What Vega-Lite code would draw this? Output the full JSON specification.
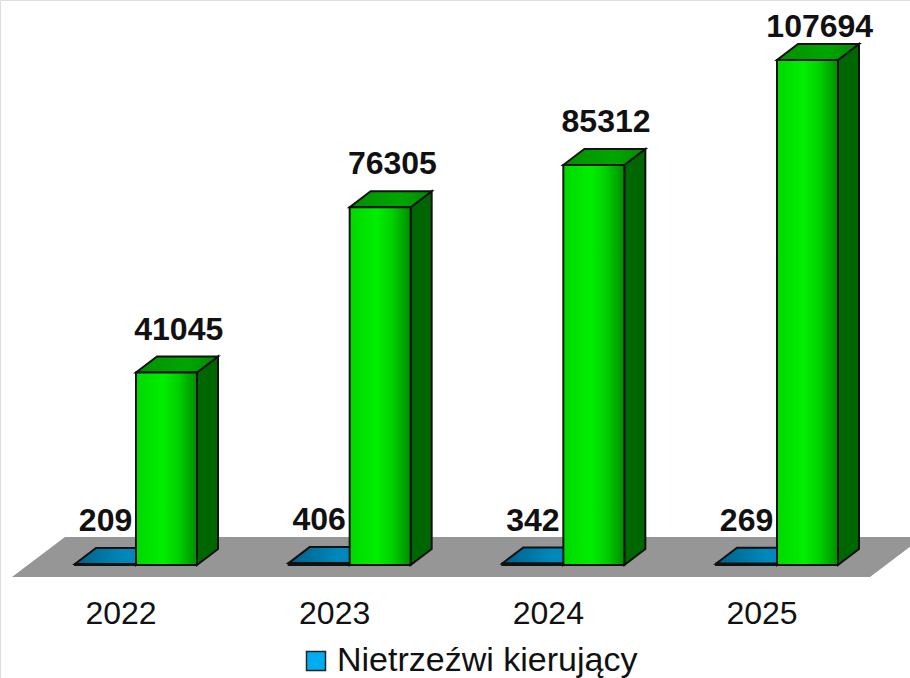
{
"$schema":"https://vega.github.io/schema/vega-lite/v6.json",
"width":910,"height":678,"padding":0,"autosize":{"type":"none"},
"background":"white",
"data":{"values":[
{"year":2022,"series":"Nietrzeźwi kierujący","value":209},
{"year":2023,"series":"Nietrzeźwi kierujący","value":406},
{"year":2024,"series":"Nietrzeźwi kierujący","value":342},
{"year":2025,"series":"Nietrzeźwi kierujący","value":269},
{"year":2022,"series":"Seria 2","value":41045},
{"year":2023,"series":"Seria 2","value":76305},
{"year":2024,"series":"Seria 2","value":85312},
{"year":2025,"series":"Seria 2","value":107694}
]},
"transform":[
{"calculate":"datum.series === 'Seria 2'","as":"green"},
{"calculate":"datum.year + (datum.green ? 0.0655 : -0.22)","as":"L"},
{"calculate":"datum.L + 0.2855","as":"R"},
{"calculate":"[datum.R, datum.R + 0.0983]","as":"sx"},
{"calculate":"[0, 3412]","as":"slo"},
{"calculate":"[datum.value, datum.value + 3412]","as":"shi"},
{"calculate":"[datum.L, datum.L + 0.0983, datum.R, datum.R + 0.0983]","as":"tx"},
{"calculate":"[datum.value, datum.value, datum.value, datum.value + 3412]","as":"tlo"},
{"calculate":"[datum.value, datum.value + 3412, datum.value + 3412, datum.value + 3412]","as":"thi"},
{"calculate":"datum.L + (datum.green ? 0.2 : 0.143)","as":"labelX"},
{"calculate":"min(datum.value + 7000, 112598)","as":"labelY"}
],
"layer":[
{"data":{"values":[
{"x":2021.485,"low":-2559,"high":-2559},
{"x":2021.733,"low":-2559,"high":5971},
{"x":2025.501,"low":-2559,"high":5971},
{"x":2025.749,"low":5971,"high":5971}
]},
"transform":[],
"mark":{"type":"area","fill":"#969696","clip":true},
"encoding":{
"x":{"field":"x","type":"quantitative","scale":{"domain":[2021.429,2025.688],"nice":false,"zero":false},
"axis":{"title":null,"values":[2022,2023,2024,2025],"format":"d","domain":false,"ticks":false,"grid":false,"labelFont":"Liberation Sans","labelFontSize":32,"labelColor":"#111","labelPadding":0,"labelOffset":-1.5,"offset":-80}},
"y":{"field":"low","type":"quantitative","scale":{"domain":[-24098,120490],"nice":false,"zero":false},"axis":null},
"y2":{"field":"high"}
}},
{"transform":[{"filter":"!datum.green"},{"flatten":["sx","slo","shi"]}],
"mark":{"type":"area","fill":"#005a80","stroke":"#111","strokeWidth":2},
"encoding":{"x":{"field":"sx","type":"quantitative"},"y":{"field":"slo","type":"quantitative"},"y2":{"field":"shi"},"detail":{"field":"year"}}},
{"transform":[{"filter":"!datum.green"},{"flatten":["tx","tlo","thi"]}],
"mark":{"type":"area","fill":{"gradient":"linear","x1":0,"x2":1,"y1":0,"y2":0,"stops":[{"offset":0,"color":"#005f88"},{"offset":0.6,"color":"#0088bb"},{"offset":1,"color":"#0088bb"}]},"stroke":"#111","strokeWidth":2},
"encoding":{"x":{"field":"tx","type":"quantitative"},"y":{"field":"tlo","type":"quantitative"},"y2":{"field":"thi"},"detail":{"field":"year"}}},
{"transform":[{"filter":"!datum.green"}],
"mark":{"type":"rect","stroke":"#111","strokeWidth":2},
"encoding":{"x":{"field":"L","type":"quantitative"},"x2":{"field":"R"},"y":{"field":"value","type":"quantitative"},"y2":{"datum":0},
"fill":{"field":"series","type":"nominal","scale":{"domain":["Nietrzeźwi kierujący"],"range":["#00aeef"]},
"legend":{"title":null,"orient":"none","legendX":299,"legendY":644,"symbolType":"square","symbolSize":361,"symbolStrokeColor":"#222","symbolStrokeWidth":1.5,"labelFont":"Liberation Sans","labelFontSize":34,"labelColor":"#111","labelOffset":4,"labelLimit":400}}}},
{"transform":[{"filter":"datum.green"},{"flatten":["sx","slo","shi"]}],
"mark":{"type":"area","fill":"#006600","stroke":"#111","strokeWidth":2},
"encoding":{"x":{"field":"sx","type":"quantitative"},"y":{"field":"slo","type":"quantitative"},"y2":{"field":"shi"},"detail":{"field":"year"}}},
{"transform":[{"filter":"datum.green"},{"flatten":["tx","tlo","thi"]}],
"mark":{"type":"area","fill":{"gradient":"linear","x1":0,"x2":1,"y1":0,"y2":0,"stops":[{"offset":0,"color":"#008f00"},{"offset":0.6,"color":"#00a600"},{"offset":1,"color":"#008c00"}]},"stroke":"#111","strokeWidth":2},
"encoding":{"x":{"field":"tx","type":"quantitative"},"y":{"field":"tlo","type":"quantitative"},"y2":{"field":"thi"},"detail":{"field":"year"}}},
{"transform":[{"filter":"datum.green"}],
"mark":{"type":"rect","stroke":"#111","strokeWidth":2,"fill":{"gradient":"linear","x1":0,"x2":1,"y1":0,"y2":0,"stops":[{"offset":0,"color":"#00d800"},{"offset":0.45,"color":"#00ee00"},{"offset":0.7,"color":"#00d000"},{"offset":1,"color":"#008c00"}]}},
"encoding":{"x":{"field":"L","type":"quantitative"},"x2":{"field":"R"},"y":{"field":"value","type":"quantitative"},"y2":{"datum":0}}},
{"mark":{"type":"text","font":"Liberation Sans","fontSize":32,"fontWeight":"bold","color":"#111","baseline":"alphabetic","align":"center"},
"encoding":{"x":{"field":"labelX","type":"quantitative"},"y":{"field":"labelY","type":"quantitative"},"text":{"field":"value","type":"quantitative","format":"d"}}}
]
}
